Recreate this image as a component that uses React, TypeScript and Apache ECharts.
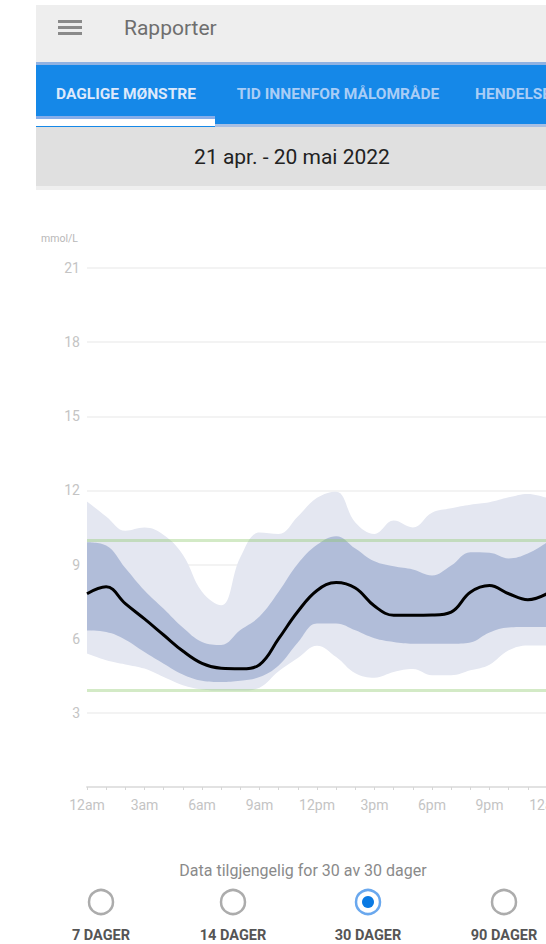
import React, { useEffect, useRef } from "react";
import * as echarts from "echarts";

const HOURS = [0, 1, 2, 3, 4, 5, 6, 7, 8, 9, 10, 11, 12, 13, 14, 15, 16, 17, 18, 19, 20, 21, 22, 23, 24];
const P95 = [11.55, 10.95, 10.37, 10.5, 10.2, 9.4, 7.9, 7.35, 9.3, 10.3, 10.24, 10.95, 11.7, 11.95, 10.7, 10.24, 10.78, 10.5, 11.1, 11.28, 11.42, 11.52, 11.72, 11.86, 11.7];
const P75 = [9.9, 9.77, 8.86, 7.95, 7.21, 6.45, 5.87, 5.75, 6.35, 6.9, 7.9, 9.03, 9.8, 10.15, 9.65, 9.13, 8.93, 8.8, 8.56, 8.96, 9.5, 9.48, 9.25, 9.45, 9.9];
const MEDIAN = [7.82, 8.1, 7.42, 6.8, 6.15, 5.5, 5.0, 4.8, 4.78, 4.95, 6.0, 7.1, 7.95, 8.27, 8.05, 7.32, 6.95, 6.95, 6.96, 7.08, 7.88, 8.15, 7.82, 7.58, 7.82];
const P25 = [6.33, 6.27, 5.96, 5.46, 4.99, 4.55, 4.3, 4.25, 4.3, 4.45, 4.92, 5.85, 6.62, 6.62, 6.34, 6.02, 5.87, 5.8, 5.8, 5.8, 5.85, 6.25, 6.45, 6.47, 6.47];
const P5 = [5.4, 5.13, 4.96, 4.79, 4.45, 4.12, 3.95, 3.9, 3.9, 4.02, 4.68, 5.22, 5.72, 5.26, 4.6, 4.42, 4.65, 4.77, 4.52, 4.52, 4.72, 4.95, 5.53, 5.73, 5.73];
const TARGET_LOW = 3.9;
const TARGET_HIGH = 10;
const Y_TICKS = [0, 3, 6, 9, 12, 15, 18, 21];
const X_LABELS: Record<string, string> = { "0": "12am", "3": "3am", "6": "6am", "9": "9am", "12": "12pm", "15": "3pm", "18": "6pm", "21": "9pm", "24": "12am" };

const TITLE = "Rapporter";
const TABS = ["DAGLIGE MØNSTRE", "TID INNENFOR MÅLOMRÅDE", "HENDELSER"];
const DATE_RANGE = "21 apr. - 20 mai 2022";
const UNIT = "mmol/L";
const FOOTER = "Data tilgjengelig for 30 av 30 dager";
const PERIODS = ["7 DAGER", "14 DAGER", "30 DAGER", "90 DAGER"];
const SELECTED_PERIOD = 2;

const FONT = "Roboto, 'Noto Sans', sans-serif";

export default function App() {
  const ref = useRef<HTMLDivElement>(null);
  useEffect(() => {
    if (!ref.current) return;
    const chart = echarts.init(ref.current, undefined, { renderer: "svg" });
    const outerDiff = HOURS.map((_, i) => +(P95[i] - P5[i]).toFixed(3));
    const innerDiff = HOURS.map((_, i) => +(P75[i] - P25[i]).toFixed(3));
    const SMOOTH = 0.4;
    const hidden = { opacity: 0, width: 0 };

    const tabX = [126, 338, 475];
    const radioX = [101, 233, 368, 504];
    const center = { textAlign: "center", textVerticalAlign: "middle", align: "center", verticalAlign: "middle" };
    const leftMid = { textAlign: "left", textVerticalAlign: "middle", align: "left", verticalAlign: "middle" };

    const graphic: any[] = [
      // toolbar
      { type: "rect", shape: { x: 36, y: 5, width: 520, height: 57 }, style: { fill: "#eeeeee" }, silent: true },
      { type: "rect", shape: { x: 58, y: 20, width: 24, height: 3 }, style: { fill: "#8a8a8a" } },
      { type: "rect", shape: { x: 58, y: 26, width: 24, height: 3 }, style: { fill: "#8a8a8a" } },
      { type: "rect", shape: { x: 58, y: 32, width: 24, height: 3 }, style: { fill: "#8a8a8a" } },
      { type: "text", style: { text: TITLE, x: 124, y: 28, fill: "#6e6e6e", font: `21px ${FONT}`, ...leftMid } },
      // tab bar
      { type: "rect", shape: { x: 36, y: 62, width: 520, height: 65 }, style: { fill: "#1588e8" } },
      { type: "rect", shape: { x: 36, y: 62, width: 520, height: 3 }, style: { fill: "#90b2e2" } },
      { type: "rect", shape: { x: 215, y: 124, width: 340, height: 3 }, style: { fill: "#a8bfe3" } },
      { type: "rect", shape: { x: 36, y: 116, width: 179, height: 3 }, style: { fill: "#86aeea" } },
      { type: "rect", shape: { x: 36, y: 119, width: 179, height: 7 }, style: { fill: "#ffffff" } },
      ...TABS.map((t, i) => ({
        type: "text",
        style: {
          text: t, x: tabX[i], y: 94,
          fill: i === 0 ? "#dde9fb" : "#a9cdf6",
          font: `bold 15.5px ${FONT}`,
          ...(i === 2 ? leftMid : center),
        },
      })),
      // date bar
      { type: "rect", shape: { x: 36, y: 127, width: 520, height: 59 }, style: { fill: "#e0e0e0" } },
      { type: "rect", shape: { x: 36, y: 186, width: 520, height: 4 }, style: { fill: "#efefef" } },
      { type: "text", style: { text: DATE_RANGE, x: 292, y: 157, fill: "#222222", font: `21px ${FONT}`, ...center } },
      // unit
      { type: "text", style: { text: UNIT, x: 41, y: 238, fill: "#b8b8b8", font: `10.5px ${FONT}`, ...leftMid } },
      // footer
      { type: "text", style: { text: FOOTER, x: 303, y: 870, fill: "#8a8a8a", font: `16px ${FONT}`, ...center } },
      ...PERIODS.flatMap((p, i) => {
        const sel = i === SELECTED_PERIOD;
        const els: any[] = [
          { type: "circle", shape: { cx: radioX[i], cy: 902, r: 12 }, style: { fill: "#ffffff", stroke: sel ? "#6aa8ee" : "#acacac", lineWidth: 2.5 } },
          { type: "text", style: { text: p, x: radioX[i], y: 935, fill: "#555555", font: `bold 14.5px ${FONT}`, ...center } },
        ];
        if (sel) els.push({ type: "circle", shape: { cx: radioX[i], cy: 902, r: 6 }, style: { fill: "#0a7ae3" } });
        return els;
      }),
    ];

    chart.setOption({
      animation: false,
      backgroundColor: "#ffffff",
      textStyle: { fontFamily: FONT },
      graphic,
      grid: { left: 87, right: -1, top: 268, height: 519, containLabel: false, outerBoundsMode: "none" },
      xAxis: {
        type: "category",
        boundaryGap: false,
        data: HOURS.map(String),
        axisLine: { show: true, lineStyle: { color: "#e2e2e2", width: 2 } },
        axisTick: { show: true, interval: 0, length: 3, lineStyle: { color: "#d6d6d6", width: 1 } },
        splitLine: { show: false },
        axisLabel: {
          color: "#c4c4c4",
          fontSize: 14,
          margin: 11,
          interval: 2,
          formatter: (v: string) => X_LABELS[v] ?? "",
        },
      },
      yAxis: {
        type: "value",
        min: Y_TICKS[0],
        max: Y_TICKS[Y_TICKS.length - 1],
        interval: 3,
        axisLine: { show: false },
        axisTick: { show: false },
        splitLine: { show: true, lineStyle: { color: "#efefef", width: 1.5 } },
        axisLabel: {
          color: "#c4c4c4",
          fontSize: 14,
          margin: 7,
          showMinLabel: false,
        },
      },
      series: [
        { name: "p5", type: "line", stack: "outer", data: P5, symbol: "none", smooth: SMOOTH, lineStyle: hidden, silent: true },
        { name: "p5-p95", type: "line", stack: "outer", data: outerDiff, symbol: "none", smooth: SMOOTH, lineStyle: hidden, areaStyle: { color: "#e4e7f1", opacity: 1 }, silent: true },
        { name: "p25", type: "line", stack: "inner", data: P25, symbol: "none", smooth: SMOOTH, lineStyle: hidden, silent: true },
        { name: "p25-p75", type: "line", stack: "inner", data: innerDiff, symbol: "none", smooth: SMOOTH, lineStyle: hidden, areaStyle: { color: "#b1bdd9", opacity: 1 }, silent: true },
        {
          name: "median", type: "line", data: MEDIAN, symbol: "none", smooth: SMOOTH,
          lineStyle: { color: "#000000", width: 3 }, silent: true, z: 5,
          markLine: {
            silent: true,
            symbol: "none",
            label: { show: false },
            lineStyle: { color: "rgba(140,200,105,0.38)", width: 3, type: "solid" },
            data: [{ yAxis: TARGET_HIGH }, { yAxis: TARGET_LOW }],
          },
        },
      ],
    });
    return () => chart.dispose();
  }, []);
  return <div ref={ref} style={{ position: "absolute", left: 0, top: 0, width: 546, height: 944 }} />;
}
